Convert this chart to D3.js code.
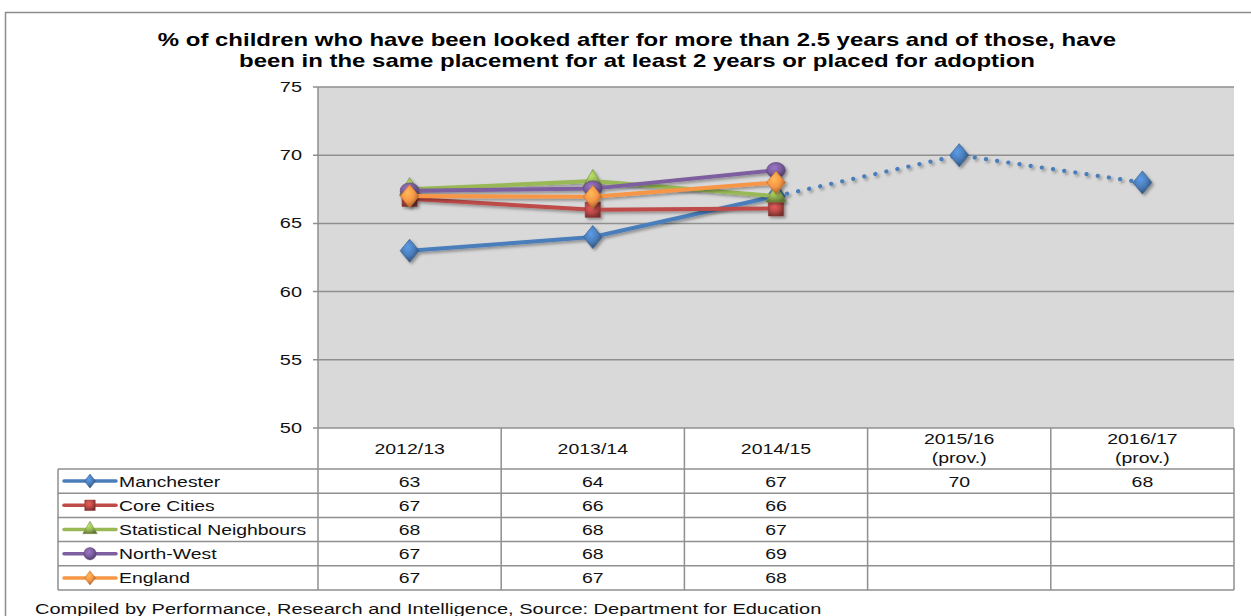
<!DOCTYPE html>
<html><head><meta charset="utf-8">
<script src="https://cdn.jsdelivr.net/npm/d3@7"></script>
<style>body{margin:0;background:#fff}svg{display:block}text{font-family:"Liberation Sans",Arial,sans-serif}</style>
</head><body><svg id="c" width="1251" height="616"></svg>
<script>
const categories = ["2012/13","2013/14","2014/15","2015/16\n(prov.)","2016/17\n(prov.)"];
const seriesNames = ["Manchester","Core Cities","Statistical Neighbours","North-West","England"];
// plotted values (as drawn)
const manchester = [63, 64, 67, 70, 68];
const coreCities = [66.8, 66, 66.1, null, null];
const statNeighbours = [67.5, 68.1, 67.0, null, null];
const northWest = [67.4, 67.55, 68.9, null, null];
const england = [67.0, 66.95, 68.0, null, null];
// table labels (rounded)
const tableManchester = ["63","64","67","70","68"];
const tableCore = ["67","66","66","",""];
const tableStat = ["68","68","67","",""];
const tableNW = ["67","68","69","",""];
const tableEngland = ["67","67","68","",""];
const yTicks = [50,55,60,65,70,75];
const title = ["% of children who have been looked after for more than 2.5 years and of those, have","been in the same placement for at least 2 years or placed for adoption"];
const footer = "Compiled by Performance, Research and Intelligence, Source: Department for Education";

const colors = ["#4a7ebb","#be4b48","#98b954","#7d5fa0","#f79646"];
const markers = ["diamond","square","triangle","circle","diamond"];
const allValues = [manchester, coreCities, statNeighbours, northWest, england];
const allTable = [tableManchester, tableCore, tableStat, tableNW, tableEngland];

const svg = d3.select("#c");
const L = 318, R = 1234, T = 87, B = 428;
const x = d3.scaleBand().domain(categories).range([L, R]);
const y = d3.scaleLinear().domain([50,75]).range([B, T]);
const SX = 1.3;

function txt(parent, s, px, py, size, anchor, sx, weight){
  return parent.append("text").attr("transform",`translate(${px},${py}) scale(${sx||SX},1)`)
    .attr("text-anchor",anchor||"start").attr("font-size",size).attr("fill","#111")
    .attr("font-weight",weight||"normal").text(s);
}

const defs = svg.append("defs");
const f = defs.append("filter").attr("id","sh").attr("x","-20%").attr("y","-20%").attr("width","140%").attr("height","140%");
f.append("feDropShadow").attr("dx",2).attr("dy",2).attr("stdDeviation",1.5).attr("flood-color","#000").attr("flood-opacity",0.35);
colors.forEach((c,i)=>{
  const g = defs.append("radialGradient").attr("id","g"+i).attr("cx","40%").attr("cy","35%").attr("r","70%");
  g.append("stop").attr("offset","0%").attr("stop-color",d3.color(c).brighter(0.6));
  g.append("stop").attr("offset","50%").attr("stop-color",c);
  g.append("stop").attr("offset","100%").attr("stop-color",d3.color(c).darker(1.4));
});

// outer border
svg.append("rect").attr("x",5.5).attr("y",12.5).attr("width",1300).attr("height",700).attr("fill","none").attr("stroke","#8c8c8c").attr("stroke-width",1.5);

// title
title.forEach((s,i)=>txt(svg, s, 637, 46+i*21, 17.5, "middle", 1.37, "bold").attr("fill","#000"));

// plot area
svg.append("rect").attr("x",L).attr("y",T).attr("width",R-L).attr("height",B-T).attr("fill","#d9d9d9");
svg.append("g").selectAll("line").data(yTicks).join("line")
  .attr("x1",L-5).attr("x2",R).attr("y1",d=>y(d)).attr("y2",d=>y(d)).attr("stroke","#8f8f8f").attr("stroke-width",1.5);
svg.append("line").attr("x1",L).attr("x2",L).attr("y1",T).attr("y2",B).attr("stroke","#8f8f8f").attr("stroke-width",1.5);
yTicks.forEach(d=>txt(svg, d, 302, y(d)+5, 15, "end", 1.33));

const cx = c => x(c) + x.bandwidth()/2;
function markerPath(type, s){
  const sym = {diamond:d3.symbolDiamond, square:d3.symbolSquare, triangle:d3.symbolTriangle, circle:d3.symbolCircle}[type];
  return d3.symbol().type(sym).size(s)();
}
const msize = {diamond:170, square:230, triangle:180, circle:210};

allValues.forEach((vals,i)=>{
  const pts = vals.map((v,j)=>({v, c:categories[j]})).filter(d=>d.v!=null);
  const g = svg.append("g").attr("filter","url(#sh)");
  const line = d3.line().x(d=>cx(d.c)).y(d=>y(d.v));
  if(i===0){
    g.append("path").attr("d",line(pts.slice(0,3))).attr("fill","none").attr("stroke",colors[i]).attr("stroke-width",4).attr("stroke-linejoin","round");
    g.append("path").attr("d",line(pts.slice(2))).attr("fill","none").attr("stroke",colors[i]).attr("stroke-width",4.2)
      .attr("stroke-dasharray","0.1 11.2").attr("stroke-linecap","round");
  } else {
    g.append("path").attr("d",line(pts)).attr("fill","none").attr("stroke",colors[i]).attr("stroke-width",4).attr("stroke-linejoin","round");
  }
  const mk = markers[i];
  g.selectAll("path.m").data(pts).join("path").attr("class","m")
    .attr("transform",d=>`translate(${cx(d.c)},${y(d.v)})${mk==="diamond"?" scale(1.35,0.95)":(mk==="circle"?" scale(1.15,0.95)":"")}`)
    .attr("d",markerPath(mk, msize[mk])).attr("fill","url(#g"+i+")").attr("stroke",d3.color(colors[i]).darker(0.8)).attr("stroke-width",0.6);
});

// data table
const rowTop = 469, rowH = 24.2, tl = 58;
const tcol = "#8f8f8f";
categories.forEach((c,j)=>{
  const lines = c.split("\n");
  lines.forEach((s,k)=>txt(svg, s, cx(c), lines.length>1 ? 444+k*19 : 454, 15, "middle"));
});
const tg = svg.append("g").attr("stroke",tcol).attr("stroke-width",1.5);
x.domain().forEach(c=>tg.append("line").attr("x1",x(c)+x.bandwidth()).attr("x2",x(c)+x.bandwidth()).attr("y1",B).attr("y2",rowTop+rowH*5));
tg.append("line").attr("x1",L).attr("x2",L).attr("y1",B).attr("y2",rowTop+rowH*5);
tg.append("line").attr("x1",tl).attr("x2",tl).attr("y1",rowTop).attr("y2",rowTop+rowH*5);
d3.range(6).forEach(k=>tg.append("line").attr("x1",tl).attr("x2",R).attr("y1",rowTop+k*rowH).attr("y2",rowTop+k*rowH));

seriesNames.forEach((n,i)=>{
  const yc = rowTop + rowH*i + rowH/2;
  svg.append("line").attr("x1",64).attr("x2",116).attr("y1",yc).attr("y2",yc).attr("stroke",colors[i]).attr("stroke-width",3.5).attr("stroke-linecap","round");
  const mk = markers[i];
  svg.append("path").attr("transform",`translate(90,${yc})${mk==="diamond"?" scale(1.1,0.8)":""}`)
    .attr("d",markerPath(mk, mk==="circle"?120:(mk==="square"?110:90))).attr("fill","url(#g"+i+")").attr("stroke",d3.color(colors[i]).darker(0.8)).attr("stroke-width",0.5);
  txt(svg, n, 119, yc+5.5, 15.5, "start", 1.25);
  allTable[i].forEach((v,j)=>{ if(v) txt(svg, v, cx(categories[j]), yc+5.5, 15, "middle"); });
});

txt(svg, footer, 35, 614, 15.5, "start", 1.29);
</script></body></html>
